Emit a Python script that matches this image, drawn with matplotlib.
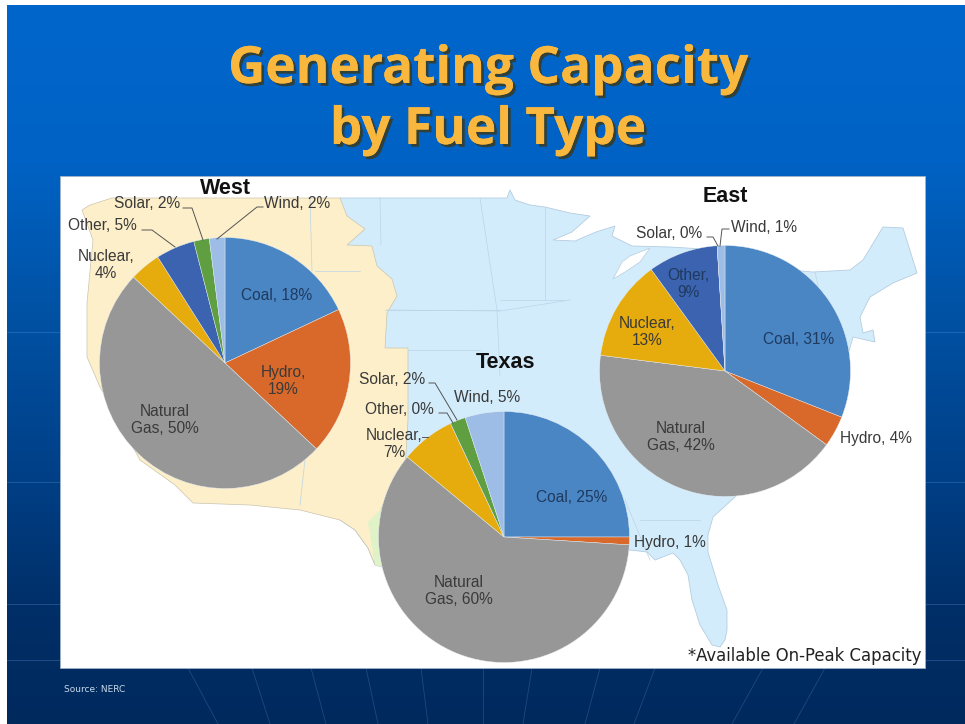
import numpy as np
import matplotlib
matplotlib.use('Agg')
import matplotlib.pyplot as plt
from matplotlib.patches import Polygon, Rectangle
from matplotlib.colors import LinearSegmentedColormap
import matplotlib.patheffects as pe

W, H = 965, 724
plt.rcParams['font.family'] = ['Liberation Sans', 'DejaVu Sans']

# data
fuels = ['Coal', 'Hydro', 'Natural Gas', 'Nuclear', 'Other', 'Solar', 'Wind']
fuel_colors = ['#4A86C4', '#D9692A', '#979797', '#E6AB0C', '#3B63AF', '#5F9E41', '#9DBDE6']
west = [18, 19, 50, 4, 5, 2, 2]
east = [31, 4, 42, 13, 9, 0, 1]
texas = [25, 1, 60, 7, 0, 2, 5]

# label layout for each pie, pixel centres, in the order of fuels
west_pos = [(277, 295), (283, 381), (165, 420), (106, 265), (102, 225), (147, 203), (297, 203)]
east_pos = [(799, 339), (876, 439), (681, 437), (647, 332), (688, 284), (669, 233), (764, 227)]
texas_pos = [(572, 497), (670, 542), (459, 591), (394, 444), (399, 409), (392, 380), (487, 398)]
west_breaks = ['Hydro', 'Natural Gas', 'Nuclear']
east_breaks = ['Natural Gas', 'Nuclear', 'Other']
texas_breaks = ['Natural Gas', 'Nuclear']

fig = plt.figure(figsize=(W / 100, H / 100), dpi=100)

# slide background
bg = fig.add_axes([0, 0, 1, 1], zorder=0)
bg.axis('off')
cmap = LinearSegmentedColormap.from_list('slide', [(0, '#0066CC'), (0.22, '#0062C4'), (0.4, '#0054A8'),
                                                   (0.66, '#003F86'), (0.85, '#002E66'), (1, '#002A5E')])
bg.imshow(np.linspace(0, 1, 256).reshape(-1, 1), cmap=cmap, extent=[7, W, H, 5], aspect='auto', zorder=0)
bg.set_xlim(0, W)
bg.set_ylim(H, 0)

# faint lines on the slide
for y in [332, 482, 604, 660]:
    bg.plot([7, 60], [y, y], color='#5C9BE0', lw=0.6, alpha=0.35, zorder=1)
    bg.plot([925, W], [y, y], color='#5C9BE0', lw=0.6, alpha=0.35, zorder=1)
for x0, x1 in [(188, 218), (252, 270), (311, 326), (366, 378), (421, 428), (483, 483), (532, 523), (600, 585),
               (655, 634), (763, 732), (825, 794)]:
    bg.plot([x0, x1], [668, H], color='#5C8FD0', lw=0.6, alpha=0.3, zorder=1)

bg.add_patch(Rectangle((60, 176), 865, 492, fc='white', ec='#9FB4C8', lw=0.6, zorder=2))

# map behind the pies
us = [(340, 198), (507, 198), (510, 190), (515, 200), (530, 205), (545, 207), (570, 213), (590, 216),
      (572, 232), (553, 240), (575, 241), (596, 232), (615, 226), (612, 236), (632, 246), (670, 247),
      (720, 250), (790, 270), (813, 272), (850, 270), (863, 260), (883, 227), (903, 228), (917, 273),
      (893, 283), (870, 297), (860, 317), (863, 333), (873, 330), (875, 342), (853, 337), (835, 400),
      (735, 497), (713, 517), (708, 535), (708, 552), (718, 585), (727, 610), (727, 630), (725, 640),
      (720, 647), (712, 645), (700, 625), (692, 600), (688, 575), (680, 560), (673, 553), (655, 560),
      (647, 552), (630, 550), (520, 600), (450, 640), (382, 567), (375, 565), (368, 548), (355, 530),
      (340, 520)]
west_map = [(112, 198), (340, 198), (347, 216), (365, 229), (347, 245), (372, 246), (377, 266), (392, 279),
            (397, 296), (387, 313), (385, 348), (408, 348), (408, 420), (405, 470), (385, 500), (372, 530),
            (375, 565), (368, 548), (355, 530), (340, 520), (300, 510), (250, 505), (193, 503), (175, 485),
            (140, 460), (100, 387), (87, 357), (87, 303), (93, 240), (82, 210), (90, 205)]
bg.add_patch(Polygon(us, fc='#D3ECFB', ec='#B5CDE0', lw=0.6, zorder=3))
bg.add_patch(Polygon(west_map, fc='#FDEFC9', ec='#C9C4B0', lw=0.5, zorder=4))
bg.add_patch(Polygon([(368, 522), (385, 505), (400, 560), (382, 567), (375, 565)], fc='#E0F3C8', ec='none', zorder=4))
# lake michigan
bg.add_patch(Polygon([(613, 279), (622, 262), (630, 256), (650, 248), (640, 262), (625, 272)],
                     fc='white', ec='#B5CDE0', lw=0.5, zorder=5))
# a few state lines
for seg in [[(380, 198), (381, 245)], [(480, 198), (497, 310), (500, 376)], [(385, 310), (500, 310)],
            [(387, 310), (500, 311), (570, 300)], [(500, 300), (565, 300)], [(545, 207), (545, 300)],
            [(360, 271), (315, 271)], [(310, 198), (312, 271)], [(815, 272), (825, 318)],
            [(700, 520), (640, 520)], [(625, 500), (650, 560)], [(300, 505), (305, 460)], [(408, 350), (480, 350)]]:
    bg.plot(*zip(*seg), color='#BCD4E6', lw=0.5, zorder=4.5)


def draw_pie(values, cx, cy, r):
    ax = fig.add_axes([(cx - r) / W, 1 - (cy + r) / H, 2 * r / W, 2 * r / H], zorder=1)
    ax.pie(values, colors=fuel_colors, startangle=90, counterclock=False, radius=1,
           wedgeprops={'edgecolor': '#E8EEF4', 'linewidth': 0.3})
    ax.set_xlim(-1, 1)
    ax.set_ylim(-1, 1)
    ax.axis('off')


draw_pie(west, 225, 363, 125.5)
draw_pie(east, 725, 371, 125.5)
draw_pie(texas, 504, 537, 125.5)

# labels on top
top = fig.add_axes([0, 0, 1, 1], zorder=2)
top.set_xlim(0, W)
top.set_ylim(H, 0)
top.axis('off')


def fuel_labels(values, positions, breaks):
    for name, val, (x, y) in zip(fuels, values, positions):
        if name == 'Natural Gas':
            text = f'Natural\nGas, {val}%'
        elif name in breaks:
            text = f'{name},\n{val}%'
        else:
            text = f'{name}, {val}%'
        color = '#3A3A3A'
        if name == 'Coal' or (name == 'Other' and name in breaks):
            color = '#1F3A5F'
        top.text(x, y, text, ha='center', va='center', fontsize=11.2, color=color, linespacing=1.2)


fuel_labels(west, west_pos, west_breaks)
fuel_labels(east, east_pos, east_breaks)
fuel_labels(texas, texas_pos, texas_breaks)

# leader lines
leaders = [[(183, 208), (192, 208), (203, 240)], [(263, 207), (257, 207), (217, 239)],
           [(142, 230), (152, 230), (175, 247)], [(707, 237), (713, 237), (718, 246)],
           [(729, 229), (722, 229), (720, 246)], [(429, 383), (435, 383), (457, 420)],
           [(439, 413), (447, 413), (453, 423)], [(422, 437), (428, 437)]]
for line in leaders:
    top.plot(*zip(*line), color='#555555', lw=0.7)

for name, x, y in [('West', 225, 189), ('East', 725, 196), ('Texas', 505, 362)]:
    top.text(x, y, name, ha='center', va='center', fontsize=15.5, fontweight='bold', color='#111111')

top.text(921, 656, '*Available On-Peak Capacity', ha='right', va='center', fontsize=11.9,
         family=['DejaVu Sans'], color='#222222')
top.text(64, 690, 'Source: NERC', ha='left', va='center', fontsize=6.5, color='#C8D8EA', family=['DejaVu Sans'])

# title
shadow = [pe.withSimplePatchShadow(offset=(2, -2), shadow_rgbFace='#3A3A20', alpha=0.85), pe.Normal()]
for text, y in [('Generating Capacity', 70), ('by Fuel Type', 131)]:
    top.text(488, y, text, ha='center', va='center', fontsize=37, fontweight='bold', color='#F9B73E',
             family=['Open Sans', 'DejaVu Sans'], path_effects=shadow)

fig.savefig('out.png', dpi=100, facecolor='white')
